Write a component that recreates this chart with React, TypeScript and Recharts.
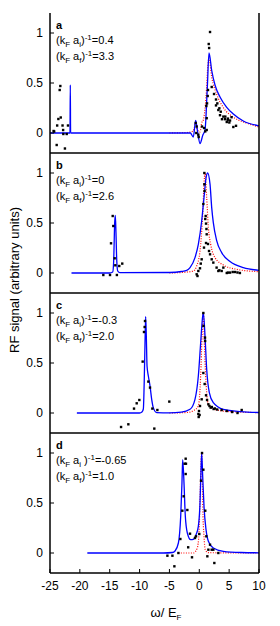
import React from 'react';
import { ComposedChart, Line, Scatter, XAxis, YAxis } from 'recharts';

type Pt = [number, number];

const xTicks = [-25, -20, -15, -10, -5, 0, 5, 10];
const yTicks = [0, 0.5, 1];

// panel a
const blueA: Pt[] = [[-25, 0], [-21.65, 0], [-21.6, 0.48], [-21.55, 0], [-5, 0], [-1.5, 0], [-1.0, -0.04], [-0.6, 0.125], [-0.3, 0.02], [0.12, -0.105], [0.6, -0.02], [0.96, 0.03], [1.35, 0.46], [1.63, 0.8], [2.08, 0.625], [2.63, 0.48], [3.47, 0.36], [4.59, 0.257], [5.7, 0.19], [7.37, 0.12], [10, 0.072]];
const redA: Pt[] = [[-5, 0], [-2, 0.005], [-1.0, 0.02], [-0.6, 0.1], [-0.3, 0.03], [0.12, 0.01], [0.4, 0.1], [0.68, 0.13], [1.13, 0.36], [1.46, 0.69], [1.63, 0.75], [2.08, 0.56], [2.9, 0.39], [4.0, 0.257], [5.7, 0.158], [7.9, 0.1], [10, 0.06]];
const dotsA: Pt[] = [[-24.4, 0.02], [-24.3, 0.015], [-23.88, -0.12], [-23.8, 0.075], [-23.6, 0.14], [-23.38, 0.43], [-23.27, 0.47], [-23.2, 0.155], [-22.9, 0.075], [-22.8, 0.03], [-22.77, -0.01], [-22.5, -0.155], [-22.2, -0.01], [-21.99, 0.075],
  [-0.6, 0.1], [-0.44, 0.065], [-0.5, 0.0], [-0.16, -0.017], [-0.1, -0.04], [0.46, 0.065], [0.8, 0.05], [1.0, 0.016], [1.24, 0.03], [1.24, 0.148], [1.18, 0.27], [1.3, 0.296], [1.41, 0.37], [1.46, 0.43], [1.58, 0.89], [1.65, 0.85], [1.8, 1.01], [2.08, 0.46], [2.47, 0.39], [2.8, 0.335], [2.8, 0.276], [3.02, 0.296], [3.19, 0.23], [3.36, 0.247], [3.47, 0.178], [3.59, 0.213], [3.8, 0.138], [4.03, 0.164], [4.3, 0.138], [4.36, 0.164], [4.6, 0.11], [4.76, 0.131], [4.8, 0.144], [5.03, 0.105], [5.15, 0.125], [5.4, 0.158], [5.7, 0.06], [6.15, 0.072]];

// panel b
const blueB: Pt[] = [[-21.4, 0], [-15, 0], [-14.5, 0.01], [-14.35, 0.1], [-14.28, 0.24], [-14.17, 0.5], [-14.06, 0.577], [-13.95, 0.4], [-13.83, 0.137], [-13.66, 0.02], [-13.3, 0.003], [-5, 0.005], [-3, 0.015], [-2.1, 0.027], [-1.55, 0.054], [-0.72, 0.154], [-0.16, 0.287], [0.4, 0.52], [0.79, 0.754], [1.13, 0.95], [1.4, 1.0], [1.8, 0.887], [2.08, 0.654], [2.35, 0.504], [2.9, 0.327], [3.75, 0.204], [5.15, 0.114], [7.37, 0.054], [10, 0.027]];
const redB: Pt[] = [[-5, 0], [-2, 0.01], [-1, 0.02], [-0.44, 0.07], [0.12, 0.22], [0.57, 0.587], [0.79, 0.887], [0.96, 1.0], [1.24, 0.754], [1.52, 0.454], [1.91, 0.287], [2.63, 0.154], [4.03, 0.08], [6.26, 0.037], [10, 0.013]];
const dotsB: Pt[] = [[-16.07, -0.02], [-14.95, -0.02], [-14.78, 0.297], [-14.5, 0.57], [-14.4, 0.47], [-14.17, 0.147], [-14.06, 0.077], [-13.8, -0.02], [-13.4, 0.07], [-12.9, 0.094],
  [-0.44, -0.013], [-0.3, -0.03], [-0.16, 0.02], [0.12, 0.047], [0.25, 0.094], [0.4, 0.137], [0.79, 0.254], [0.68, 0.69], [0.85, 1.0], [0.85, 0.887], [0.88, 0.82], [1.07, 0.57], [1.0, 0.54], [1.13, 0.494], [1.2, 0.44], [1.24, 0.387], [1.13, 0.3], [1.46, 0.29], [1.63, 0.22], [1.8, 0.187], [2.08, 0.137], [2.35, 0.104], [2.9, 0.054], [3.19, 0.02], [3.36, 0.027], [3.75, 0.02], [4.03, 0.054], [4.6, 0.0], [4.8, 0.004], [5.15, 0.004], [5.6, 0.01], [6.0, 0.01], [6.4, 0.005], [6.8, 0.0]];

// panel c
const blueC: Pt[] = [[-20.5, 0], [-10, 0], [-9.6, 0.01], [-9.37, 0.04], [-9.2, 0.37], [-9.09, 0.7], [-8.98, 0.964], [-8.87, 0.77], [-8.75, 0.47], [-8.53, 0.37], [-8.25, 0.27], [-7.97, 0.137], [-7.7, 0.054], [-7.13, 0.004], [-5, 0.002], [-3, 0.008], [-1.55, 0.037], [-0.72, 0.137], [-0.16, 0.37], [0.23, 0.7], [0.57, 0.97], [0.68, 1.0], [0.96, 0.77], [1.24, 0.437], [1.68, 0.204], [2.35, 0.104], [4.03, 0.037], [7, 0.014], [10, 0.005]];
const redC: Pt[] = [[-5, 0], [-2, 0.005], [-0.8, 0.03], [-0.16, 0.07], [0.23, 0.37], [0.46, 0.77], [0.68, 1.0], [0.85, 0.7], [1.07, 0.37], [1.46, 0.1], [2.35, 0.04], [5, 0.014], [10, 0.004]];
const dotsC: Pt[] = [[-13.1, -0.14], [-11.88, -0.113], [-10.93, 0.044], [-10.48, 0.097], [-10.04, 0.13], [-9.48, 0.514], [-9.26, 0.81], [-9.15, 0.86], [-9.09, 0.92], [-8.53, 0.314], [-8.25, 0.254], [-7.86, 0.044], [-7.53, -0.156], [-7.02, 0.03], [-5.02, 0.114],
  [-0.16, -0.01], [-0.1, -0.04], [-0.05, 0.02], [0.05, -0.02], [0.12, 0.07], [0.4, 0.137], [0.68, 0.4], [0.68, 1.0], [0.7, 0.87], [0.96, 0.754], [0.98, 0.72], [0.9, 0.29], [1.13, 0.177], [1.3, 0.13], [1.52, 0.087], [1.7, 0.07], [1.9, 0.054], [2.1, 0.06], [2.4, 0.04], [2.6, 0.045], [3.0, 0.035], [3.75, 0.03], [4.6, 0.02], [5.5, 0.01], [6.4, 0.0], [7.1, 0.03]];

// panel d
const blueD: Pt[] = [[-18.75, 0], [-6, 0], [-4.5, 0.005], [-4.06, 0.02], [-3.5, 0.1], [-3.11, 0.37], [-2.9, 0.7], [-2.78, 0.933], [-2.56, 0.7], [-2.34, 0.37], [-2.0, 0.2], [-1.44, 0.133], [-1.0, 0.137], [-0.55, 0.183], [-0.16, 0.267], [0.12, 0.5], [0.29, 0.833], [0.4, 1.0], [0.57, 0.767], [0.79, 0.467], [1.13, 0.233], [1.52, 0.117], [2.35, 0.05], [4.03, 0.017], [7, 0.005], [10, 0.002]];
const redD: Pt[] = [[-3.5, 0], [-1, 0], [-0.33, 0.05], [-0.05, 0.2], [0.12, 0.53], [0.29, 0.9], [0.4, 1.0], [0.5, 0.767], [0.6, 0.43], [0.79, 0.167], [1.0, 0.033], [1.52, 0.003], [10, 0]];
const dotsD: Pt[] = [[-5.34, -0.027], [-4.5, -0.027], [-4.17, -0.133], [-3.5, 0.0], [-3.17, 0.14], [-2.84, 0.423], [-2.62, 0.567], [-2.45, 0.893], [-2.28, 0.943], [-2.23, 0.893], [-2.28, 0.79], [-2.0, 0.43], [-1.86, 0.057], [-1.55, 0.193], [-1.22, -0.043], [-0.72, 0.15], [-0.55, 0.167], [0.0, 0.19], [0.29, 0.723], [0.46, 1.0], [0.68, 0.833], [1.0, 0.423], [1.18, 0.167], [1.35, -0.033], [1.52, 0.033], [1.8, 0.083], [2.08, 0.033], [2.35, 0.033], [2.52, -0.1], [3.19, 0.0]];

const tags = ['a', 'b', 'c', 'd'];
const initial = ['0.4', '0', '-0.3', '-0.65'];
const final = ['3.3', '2.6', '2.0', '1.0'];

const panels = [
  { blue: blueA, red: redA, dots: dotsA },
  { blue: blueB, red: redB, dots: dotsB },
  { blue: blueC, red: redC, dots: dotsC },
  { blue: blueD, red: redD, dots: dotsD },
];

const FONT = '"Liberation Sans", Arial, Helvetica, sans-serif';
const PANEL_TOP = 13;
const PANEL_H = 140;

const toObj = (pts: Pt[]) => pts.map(([x, y]) => ({ x, y }));

const Square = (props: any) => {
  const { cx, cy } = props;
  if (cx == null || cy == null) return null;
  return <rect x={cx - 1.2} y={cy - 1.2} width={2.4} height={2.4} fill="#000" />;
};

const axisLine = { stroke: '#000', strokeWidth: 1.5 };
const tickLine = { stroke: '#000', strokeWidth: 1 };

function Panel({ idx }: { idx: number }) {
  const p = panels[idx];
  const last = idx === panels.length - 1;
  const top = PANEL_TOP + idx * PANEL_H - 3;
  const h = last ? 626 - top : PANEL_H + 6;
  const bottomH = h - 3 - PANEL_H;
  return (
    <div style={{ position: 'absolute', left: 0, top, width: 280, height: h }}>
      <ComposedChart width={280} height={h} margin={{ top: 3, right: 0, bottom: 0, left: 0 }}>
        <XAxis
          xAxisId="b"
          type="number"
          dataKey="x"
          domain={[-25, 10]}
          ticks={xTicks}
          allowDataOverflow
          orientation="bottom"
          height={bottomH}
          tickSize={-4}
          tickMargin={12}
          tick={last ? { fill: '#000', fontSize: 12, fontFamily: FONT } : false}
          axisLine={axisLine}
          tickLine={tickLine}
        />
        <XAxis
          xAxisId="t"
          type="number"
          dataKey="x"
          domain={[-25, 10]}
          ticks={xTicks}
          allowDataOverflow
          orientation="top"
          height={0}
          tickSize={-4}
          tick={false}
          axisLine={axisLine}
          tickLine={tickLine}
        />
        <YAxis
          yAxisId="l"
          type="number"
          dataKey="y"
          domain={[-0.2, 1.2]}
          ticks={yTicks}
          allowDataOverflow
          width={50}
          tickSize={-4}
          tickMargin={11}
          tick={{ fill: '#000', fontSize: 12, fontFamily: FONT }}
          axisLine={axisLine}
          tickLine={tickLine}
        />
        <YAxis
          yAxisId="r"
          type="number"
          dataKey="y"
          orientation="right"
          domain={[-0.2, 1.2]}
          ticks={yTicks}
          allowDataOverflow
          width={21}
          tickSize={-4}
          tick={false}
          axisLine={axisLine}
          tickLine={tickLine}
        />
        <Line
          xAxisId="t"
          yAxisId="r"
          data={toObj(p.red)}
          dataKey="y"
          type="monotone"
          stroke="#ff0000"
          strokeWidth={1.2}
          strokeDasharray="1 1.5"
          dot={false}
          activeDot={false}
          isAnimationActive={false}
        />
        <Line
          xAxisId="b"
          yAxisId="l"
          data={toObj(p.blue)}
          dataKey="y"
          type="monotone"
          stroke="#0000ff"
          strokeWidth={1.3}
          dot={false}
          activeDot={false}
          isAnimationActive={false}
        />
        <Scatter
          xAxisId="b"
          yAxisId="l"
          data={toObj(p.dots)}
          dataKey="y"
          shape={Square}
          isAnimationActive={false}
        />
      </ComposedChart>
      <div style={{ position: 'absolute', left: 56, top: 3 + 4.5, fontSize: 11, lineHeight: '14px', fontWeight: 'bold', fontFamily: FONT }}>
        {tags[idx]}
      </div>
      <div style={{ position: 'absolute', left: 56, top: 3 + 20, fontSize: 11, lineHeight: '14px', fontFamily: FONT, whiteSpace: 'nowrap' }}>
        <div>
          (k<span style={sub}>F</span> a<span style={sub}>i</span>{idx === 3 ? ' ' : ''})<span style={sup}>-1</span>={initial[idx]}
        </div>
        <div>
          (k<span style={sub}>F</span> a<span style={sub}>f</span>)<span style={sup}>-1</span>={final[idx]}
        </div>
      </div>
    </div>
  );
}

const sub: React.CSSProperties = { fontSize: 8, position: 'relative', top: 3 };
const sup: React.CSSProperties = { fontSize: 8, position: 'relative', top: -4 };

export default function App() {
  return (
    <div style={{ position: 'absolute', left: 0, top: 0, width: 280, height: 626, background: '#fff', fontFamily: FONT }}>
      {panels.map((_, i) => (
        <Panel key={i} idx={i} />
      ))}
      <div
        style={{
          position: 'absolute',
          left: 14,
          top: 280,
          transform: 'translate(-50%, -50%) rotate(-90deg)',
          fontSize: 13,
          whiteSpace: 'nowrap',
          lineHeight: '15px',
        }}
      >
        RF signal (arbitrary units)
      </div>
      <div
        style={{
          position: 'absolute',
          left: 166,
          top: 613,
          transform: 'translate(-50%, -50%)',
          fontSize: 13,
          whiteSpace: 'nowrap',
          lineHeight: '15px',
        }}
      >
        ω/ E<span style={sub}>F</span>
      </div>
    </div>
  );
}
